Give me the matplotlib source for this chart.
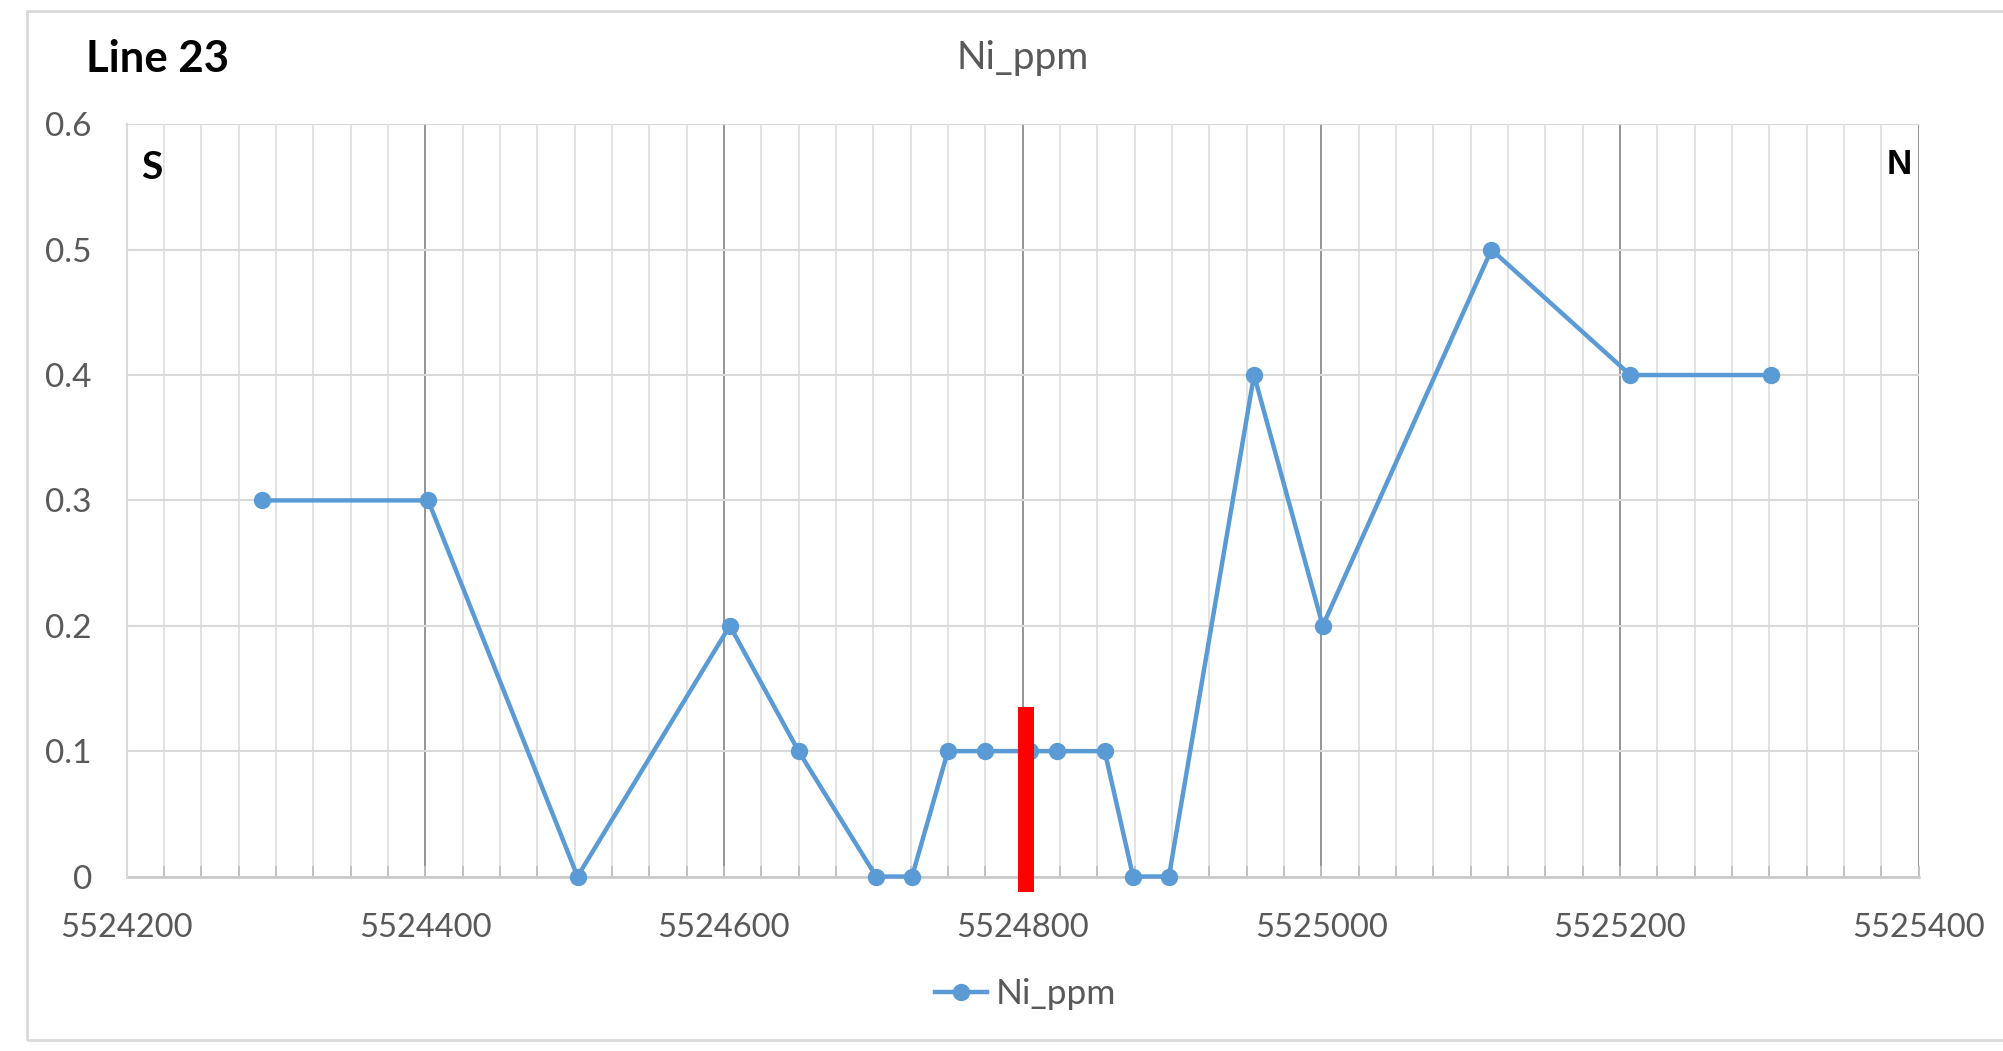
import numpy as np
import matplotlib.pyplot as plt
from matplotlib.ticker import MultipleLocator, FormatStrFormatter
from matplotlib.patches import Rectangle

# data
northing = [5524291, 5524402, 5524502, 5524604, 5524650, 5524702, 5524726,
            5524750, 5524775, 5524805, 5524823, 5524855, 5524874, 5524898,
            5524955, 5525001, 5525114, 5525207, 5525301]
ni_ppm = [0.3, 0.3, 0.0, 0.2, 0.1, 0.0, 0.0,
          0.1, 0.1, 0.1, 0.1, 0.1, 0.0, 0.0,
          0.4, 0.2, 0.5, 0.4, 0.4]
red_x = 5524802
red_bottom = -0.012
red_top = 0.135

blue = '#5B9BD5'
grey_txt = '#595959'

plt.rcParams['font.family'] = ['Lato', 'DejaVu Sans']

fig = plt.figure(figsize=(20.03, 10.51), dpi=100)
ax = fig.add_axes([0.06316, 0.16603, 0.89470, 0.71570])

ax.plot(northing, ni_ppm, color=blue, lw=3.2, marker='o', ms=11.5,
        label='Ni_ppm', zorder=4, clip_on=False)
ax.bar([red_x], [red_top - red_bottom], bottom=red_bottom, width=10.7,
       color='#FF0000', zorder=5, clip_on=False)

ax.set_xlim(5524200, 5525400)
ax.set_ylim(0, 0.6)
ax.xaxis.set_major_locator(MultipleLocator(200))
ax.xaxis.set_minor_locator(MultipleLocator(25))
ax.yaxis.set_major_locator(MultipleLocator(0.1))
ax.xaxis.set_major_formatter(FormatStrFormatter('%d'))
ax.yaxis.set_major_formatter(plt.FuncFormatter(lambda v, p: '0' if abs(v) < 1e-9 else '%g' % v))

ax.grid(which='minor', axis='x', color='#E0E0E0', lw=1.3, zorder=0)
ax.grid(which='major', axis='x', color='#8C8C8C', lw=1.3, zorder=1)
ax.grid(which='major', axis='y', color='#D9D9D9', lw=1.5, zorder=1)

for s in ['top', 'right']:
    ax.spines[s].set_visible(False)
ax.spines['left'].set_color('#D9D9D9')
ax.spines['left'].set_linewidth(1.5)
ax.spines['bottom'].set_color('#C8C8C8')
ax.spines['bottom'].set_linewidth(1.8)
ax.spines['bottom'].set_zorder(2)

ax.tick_params(axis='x', which='both', direction='in', length=8, width=1.3,
               color='#BFBFBF', labelsize=23.5, labelcolor=grey_txt, pad=26)
ax.tick_params(axis='y', length=0, labelsize=24, labelcolor=grey_txt, pad=25)

ax.set_title('Ni_ppm', fontsize=28, color=grey_txt, pad=40)
fig.text(0.043, 0.944, 'Line 23', fontsize=31.5, fontweight='bold', ha='left', va='center')
ax.text(0.008, 0.943, 'S', transform=ax.transAxes, fontsize=28, fontweight='bold',
        ha='left', va='center')
ax.text(0.996, 0.947, 'N', transform=ax.transAxes, fontsize=25, fontweight='bold',
        family='Liberation Sans', ha='right', va='center')

fig.legend(loc='center', bbox_to_anchor=(0.512, 0.054), frameon=False, fontsize=25.5,
           handlelength=1.45, handletextpad=0.25, labelcolor=grey_txt)

fig.patches.append(Rectangle((27 / 2003, 1 - 1040 / 1051), 1, (1040 - 11) / 1051,
                             transform=fig.transFigure, fill=False,
                             edgecolor='#D9D9D9', lw=2))

fig.savefig('out.png', dpi=100)
